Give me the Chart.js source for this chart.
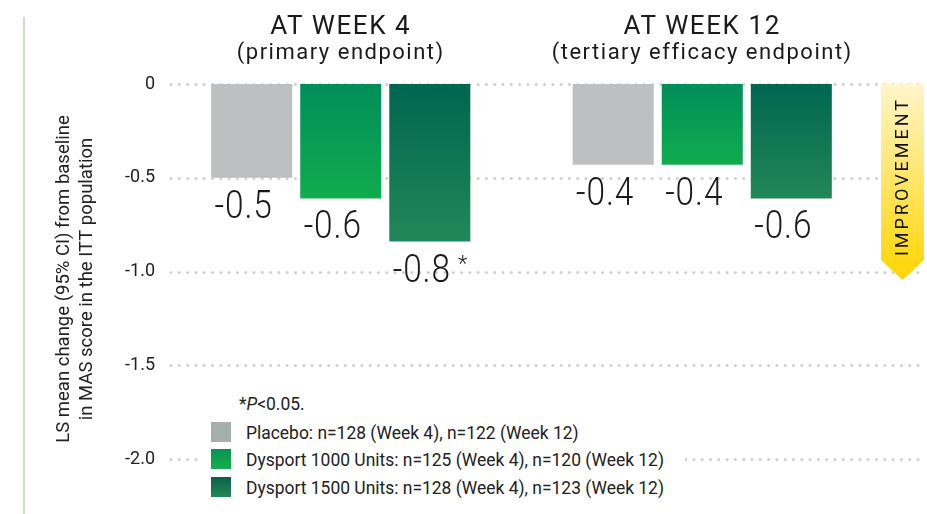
<!DOCTYPE html>
<html><head><meta charset="utf-8">
<script src="https://cdn.jsdelivr.net/npm/chart.js@4.4.1/dist/chart.umd.min.js"></script>
<style>
html,body{margin:0;padding:0;background:#fff;}
#wrap{position:relative;width:927px;height:514px;overflow:hidden;font-family:Roboto,sans-serif;color:#1a1a1a;}
#c{position:absolute;left:0;top:0;}
#leftline{position:absolute;left:23px;top:17px;width:2px;height:497px;background:#CBE3C0;}
.ttl{position:absolute;white-space:nowrap;text-align:center;width:400px;}
.t1{font-size:26px;line-height:26px;letter-spacing:1.6px;top:12px;}
.t2{font-size:22px;line-height:22px;letter-spacing:1.5px;top:41px;}
#legendBox{position:absolute;left:203px;width:482px;top:385px;height:122px;background:#fff;}
.lg{position:absolute;left:246px;font-size:19px;line-height:19px;white-space:nowrap;color:#222;}
.lg span{display:inline-block;transform:scaleX(0.918);transform-origin:left center;}
.sw{position:absolute;left:211px;width:20px;height:20px;}
</style></head><body>
<div id="wrap">
<canvas id="c" width="927" height="514"></canvas>
<div id="leftline"></div>
<div id="legendBox"></div>
</div>
<script>
// ---- data ----
const categories = ["Week 4", "Week 12"];
const groupTitles = ["AT WEEK 4", "AT WEEK 12"];
const groupSubtitles = ["(primary endpoint)", "(tertiary efficacy endpoint)"];
const seriesNames = ["Placebo", "Dysport 1000 Units", "Dysport 1500 Units"];
const seriesN = ["n=128 (Week 4), n=122 (Week 12)", "n=125 (Week 4), n=120 (Week 12)", "n=128 (Week 4), n=123 (Week 12)"];
const placebo = [-0.50, -0.43];
const dysport1000 = [-0.61, -0.43];
const dysport1500 = [-0.84, -0.61];
const placeboLabels = ["-0.5", "-0.4"];
const dysport1000Labels = ["-0.6", "-0.4"];
const dysport1500Labels = ["-0.8", "-0.6"];
const placeboSig = [false, false];
const dysport1000Sig = [false, false];
const dysport1500Sig = [true, false];
const yTicks = [0, -0.5, -1.0, -1.5, -2.0];
const yTickLabels = ["0", "-0.5", "-1.0", "-1.5", "-2.0"];
const yTitle = ["LS mean change (95% CI) from baseline", "in MAS score in the ITT population"];
const footnoteText = "P<0.05.";
const arrowText = "IMPROVEMENT";

// ---- styles ----
const barColors = [
  {top: "#BEBFC1", bottom: "#BEBFC1"},
  {top: "#008E5B", bottom: "#10AC4E"},
  {top: "#006650", bottom: "#228758"}
];
const swatchCss = [
  "#A5B0AC",
  "linear-gradient(to bottom,#0A9152,#13B04C)",
  "linear-gradient(to bottom,#0B6149,#268658)"
];

function gradFor(idx) {
  return (ctx) => {
    const chart = ctx.chart;
    const c = barColors[idx];
    if (!chart.chartArea || ctx.type !== 'data') return c.top;
    const y = chart.scales.y;
    const y0 = y.getPixelForValue(0), y1 = y.getPixelForValue(ctx.raw);
    if (!isFinite(y0) || !isFinite(y1) || y0 === y1) return c.top;
    const g = chart.ctx.createLinearGradient(0, y0, 0, y1);
    g.addColorStop(0, c.top);
    g.addColorStop(1, c.bottom);
    return g;
  };
}

const dotGrid = {
  id: 'dotGrid',
  beforeDatasetsDraw(chart) {
    const ctx = chart.ctx, ys = chart.scales.y;
    ctx.save();
    ctx.strokeStyle = '#CFCFCF';
    ctx.lineWidth = 3;
    ctx.lineCap = 'round';
    ctx.setLineDash([0, 8.3]);
    ys.ticks.forEach(t => {
      const y = Math.round(ys.getPixelForValue(t.value)) + 0.5;
      ctx.beginPath();
      ctx.moveTo(171, y);
      ctx.lineTo(926, y);
      ctx.stroke();
    });
    ctx.restore();
  }
};

const valueLabels = {
  id: 'valueLabels',
  afterDatasetsDraw(chart) {
    const ctx = chart.ctx;
    chart.data.datasets.forEach((ds, di) => {
      const meta = chart.getDatasetMeta(di);
      meta.data.forEach((bar, i) => {
        const txt = ds.valueLabels[i];
        const sx = 0.88;
        ctx.save();
        ctx.font = '300 38px Roboto';
        ctx.letterSpacing = '1px';
        const w = ctx.measureText(txt).width * sx;
        const reserve = 16;
        const left = bar.x - (w + reserve) / 2;
        const base = bar.y + 40;
        ctx.fillStyle = '#1a1a1a';
        ctx.textAlign = 'left';
        ctx.textBaseline = 'alphabetic';
        ctx.translate(left, base);
        ctx.scale(sx, 1);
        ctx.fillText(txt, 0, 0);
        ctx.restore();
        if (ds.sig[i]) {
          ctx.save();
          ctx.font = '300 22px Roboto';
          ctx.fillStyle = '#1a1a1a';
          ctx.textAlign = 'left';
          ctx.fillText('*', left + w + 7, base - 10.5);
          ctx.restore();
        }
      });
    });
  },
  afterDraw(chart) {
    const ctx = chart.ctx;
    const L = 881, R = 924, T = chart.chartArea.top, B = 260, tip = 280;
    ctx.save();
    const g = ctx.createLinearGradient(0, T, 0, tip);
    g.addColorStop(0, '#FFF5CA');
    g.addColorStop(1, '#FFD500');
    ctx.fillStyle = g;
    ctx.beginPath();
    ctx.moveTo(L, T); ctx.lineTo(R, T); ctx.lineTo(R, B);
    ctx.lineTo((L + R) / 2, tip); ctx.lineTo(L, B); ctx.closePath();
    ctx.fill();
    ctx.translate((L + R) / 2 + 1, 178);
    ctx.rotate(-Math.PI / 2);
    ctx.font = '400 18px Roboto';
    ctx.letterSpacing = '3px';
    ctx.fillStyle = '#111';
    ctx.textAlign = 'center';
    ctx.textBaseline = 'middle';
    ctx.fillText(arrowText, 1.5, 0);
    ctx.restore();
  }
};

const chart = new Chart(document.getElementById('c'), {
  type: 'bar',
  data: {
    labels: categories,
    datasets: [
      {label: seriesNames[0], data: placebo, valueLabels: placeboLabels, sig: placeboSig, backgroundColor: gradFor(0)},
      {label: seriesNames[1], data: dysport1000, valueLabels: dysport1000Labels, sig: dysport1000Sig, backgroundColor: gradFor(1)},
      {label: seriesNames[2], data: dysport1500, valueLabels: dysport1500Labels, sig: dysport1500Sig, backgroundColor: gradFor(2)}
    ]
  },
  options: {
    responsive: false,
    animation: false,
    events: [],
    categoryPercentage: 0.739,
    barPercentage: 0.91,
    layout: {padding: {left: 0, right: 44, top: 84, bottom: 40}},
    plugins: {legend: {display: false}, tooltip: {enabled: false}},
    scales: {
      x: {display: false},
      y: {
        min: -2.08, max: 0,
        afterBuildTicks: (s) => { s.ticks = yTicks.map(v => ({value: v})); },
        afterFit: (s) => { s.width = 160; },
        grid: {display: false, drawTicks: false},
        border: {display: false},
        ticks: {
          padding: 5,
          color: '#222',
          font: {family: 'Roboto', size: 18},
          callback: (v) => { const k = yTicks.indexOf(v); return k >= 0 ? yTickLabels[k] : ''; }
        },
        title: {
          display: true,
          text: yTitle,
          color: '#222',
          font: {family: 'Roboto', size: 18.5, lineHeight: 1.243},
          padding: {top: 52.5, bottom: 0}
        }
      }
    }
  },
  plugins: [dotGrid, valueLabels]
});

// ---- HTML text: titles & legend ----
const wrap = document.getElementById('wrap');
categories.forEach((c, i) => {
  const cx = chart.scales.x.getPixelForValue(i);
  [[groupTitles[i], 't1'], [groupSubtitles[i], 't2']].forEach(([txt, cls]) => {
    const d = document.createElement('div');
    d.className = 'ttl ' + cls;
    d.textContent = txt;
    d.style.left = (cx - 200) + 'px';
    wrap.appendChild(d);
  });
});
const fn = document.createElement('div');
fn.className = 'lg';
fn.style.left = '239px';
fn.style.top = '394px';
fn.innerHTML = '<span>*<i>' + footnoteText.slice(0, 1) + '</i>' + footnoteText.slice(1) + '</span>';
wrap.appendChild(fn);
const rowTops = [423, 450, 478];
seriesNames.forEach((n, i) => {
  const sw = document.createElement('div');
  sw.className = 'sw';
  sw.style.top = (rowTops[i] - 1) + 'px';
  sw.style.background = swatchCss[i];
  wrap.appendChild(sw);
  const t = document.createElement('div');
  t.className = 'lg';
  t.style.top = rowTops[i] + 'px';
  const s = document.createElement('span');
  s.textContent = n + ': ' + seriesN[i];
  t.appendChild(s);
  wrap.appendChild(t);
});
</script>
</body></html>
